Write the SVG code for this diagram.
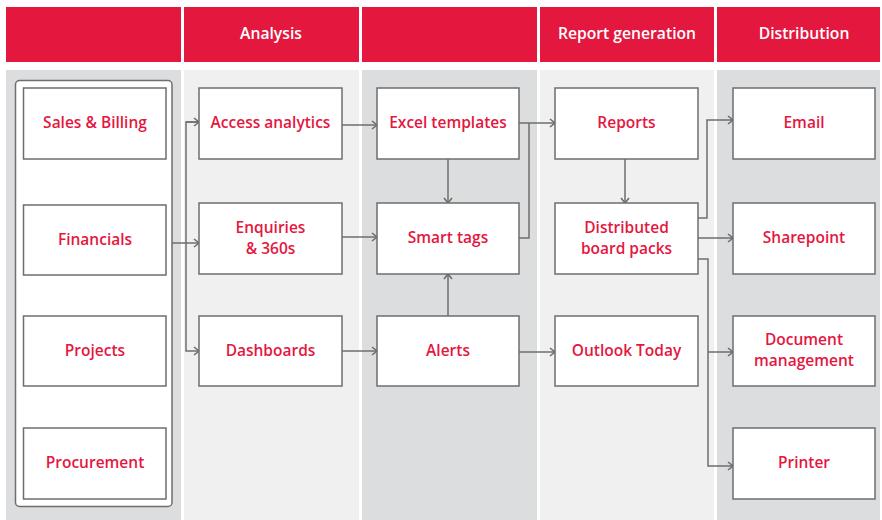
<svg xmlns="http://www.w3.org/2000/svg" width="882" height="520" viewBox="0 0 882 520">
<defs>
<style>
.hdr{fill:#e4173f}
.dk{fill:#dcdddf}
.lt{fill:#f0f0f0}
.box{fill:#ffffff;stroke:#6e6e6e;stroke-width:1.5}
.lbl{font-family:"Open Sans","Liberation Sans",sans-serif;font-weight:600;font-size:15.5px;fill:#e4173f;text-anchor:middle}
.htx{font-family:"Open Sans","Liberation Sans",sans-serif;font-weight:600;font-size:15.7px;fill:#ffffff;text-anchor:middle}
.con{fill:none;stroke:#6e6e6e;stroke-width:1.5}
</style>
<marker id="ah" viewBox="0 0 10 10" refX="9" refY="5" markerWidth="10" markerHeight="10" markerUnits="userSpaceOnUse" orient="auto">
<path d="M4,1 L9,5 L4,9" fill="none" stroke="#6e6e6e" stroke-width="1.6"/>
</marker>
</defs>
<rect width="882" height="520" fill="#ffffff"/>
<g id="headers">
<rect class="hdr" x="6" y="7" width="175" height="55"/>
<rect class="hdr" x="184" y="7" width="175" height="55"/>
<rect class="hdr" x="362" y="7" width="175" height="55"/>
<rect class="hdr" x="540" y="7" width="174" height="55"/>
<rect class="hdr" x="717" y="7" width="163" height="55"/>
<text class="htx" x="271" y="39">Analysis</text>
<text class="htx" x="627" y="39">Report generation</text>
<text class="htx" x="804" y="39">Distribution</text>
</g>
<g id="columns">
<rect class="dk" x="6" y="70" width="175" height="450"/>
<rect class="lt" x="184" y="70" width="175" height="450"/>
<rect class="dk" x="362" y="70" width="175" height="450"/>
<rect class="lt" x="540" y="70" width="174" height="450"/>
<rect class="dk" x="717" y="70" width="163" height="450"/>
</g>
<g id="sources">
<rect x="15.5" y="80.5" width="156.5" height="426" rx="4" fill="#ffffff" stroke="#6e6e6e" stroke-width="1.5"/>
</g>
<g id="connectors">
<path class="con" d="M172,243 H199" marker-end="url(#ah)"/>
<path class="con" d="M199,122 H186 V351 H199" marker-end="url(#ah)"/>
<path class="con" d="M186,122 H199" marker-end="url(#ah)"/>
<path class="con" d="M342,125 H377" marker-end="url(#ah)"/>
<path class="con" d="M342,237 H377" marker-end="url(#ah)"/>
<path class="con" d="M342,351 H377" marker-end="url(#ah)"/>
<path class="con" d="M448,159 V203" marker-end="url(#ah)"/>
<path class="con" d="M448,316 V274" marker-end="url(#ah)"/>
<path class="con" d="M519,123 H555" marker-end="url(#ah)"/>
<path class="con" d="M519,238 H529 V123"/>
<path class="con" d="M625,159 V203" marker-end="url(#ah)"/>
<path class="con" d="M519,352 H555" marker-end="url(#ah)"/>
<path class="con" d="M698,218 H707 V120 H733" marker-end="url(#ah)"/>
<path class="con" d="M698,238 H733" marker-end="url(#ah)"/>
<path class="con" d="M698,259 H708 V466 H733" marker-end="url(#ah)"/>
<path class="con" d="M708,352 H733" marker-end="url(#ah)"/>
</g>
<g id="sales-billing"><rect class="box" x="23.5" y="88" width="142.5" height="71"/><text class="lbl" x="95" y="128">Sales &amp; Billing</text></g>
<g id="financials"><rect class="box" x="23.5" y="205" width="142.5" height="70"/><text class="lbl" x="95" y="245">Financials</text></g>
<g id="projects"><rect class="box" x="23.5" y="316" width="142.5" height="70"/><text class="lbl" x="95" y="356">Projects</text></g>
<g id="procurement"><rect class="box" x="23.5" y="428" width="142.5" height="71"/><text class="lbl" x="95" y="468">Procurement</text></g>
<g id="access-analytics"><rect class="box" x="199" y="88" width="143" height="71"/><text class="lbl" x="270.5" y="128">Access analytics</text></g>
<g id="enquiries"><rect class="box" x="199" y="203" width="143" height="71"/><text class="lbl" x="270.5" y="233">Enquiries</text><text class="lbl" x="270.5" y="254">&amp; 360s</text></g>
<g id="dashboards"><rect class="box" x="199" y="316" width="143" height="70"/><text class="lbl" x="270.5" y="356">Dashboards</text></g>
<g id="excel-templates"><rect class="box" x="377" y="88" width="142" height="71"/><text class="lbl" x="448" y="128">Excel templates</text></g>
<g id="smart-tags"><rect class="box" x="377" y="203" width="142" height="71"/><text class="lbl" x="448" y="243">Smart tags</text></g>
<g id="alerts"><rect class="box" x="377" y="316" width="142" height="70"/><text class="lbl" x="448" y="356">Alerts</text></g>
<g id="reports"><rect class="box" x="555" y="88" width="143" height="71"/><text class="lbl" x="626.5" y="128">Reports</text></g>
<g id="distributed"><rect class="box" x="555" y="203" width="143" height="71"/><text class="lbl" x="626.5" y="233">Distributed</text><text class="lbl" x="626.5" y="254">board packs</text></g>
<g id="outlook-today"><rect class="box" x="555" y="316" width="143" height="70"/><text class="lbl" x="626.5" y="356">Outlook Today</text></g>
<g id="email"><rect class="box" x="733" y="88" width="142" height="71"/><text class="lbl" x="804" y="128">Email</text></g>
<g id="sharepoint"><rect class="box" x="733" y="203" width="142" height="71"/><text class="lbl" x="804" y="243">Sharepoint</text></g>
<g id="document-management"><rect class="box" x="733" y="316" width="142" height="70"/><text class="lbl" x="804" y="345">Document</text><text class="lbl" x="804" y="366">management</text></g>
<g id="printer"><rect class="box" x="733" y="428" width="142" height="71"/><text class="lbl" x="804" y="468">Printer</text></g>
</svg>
